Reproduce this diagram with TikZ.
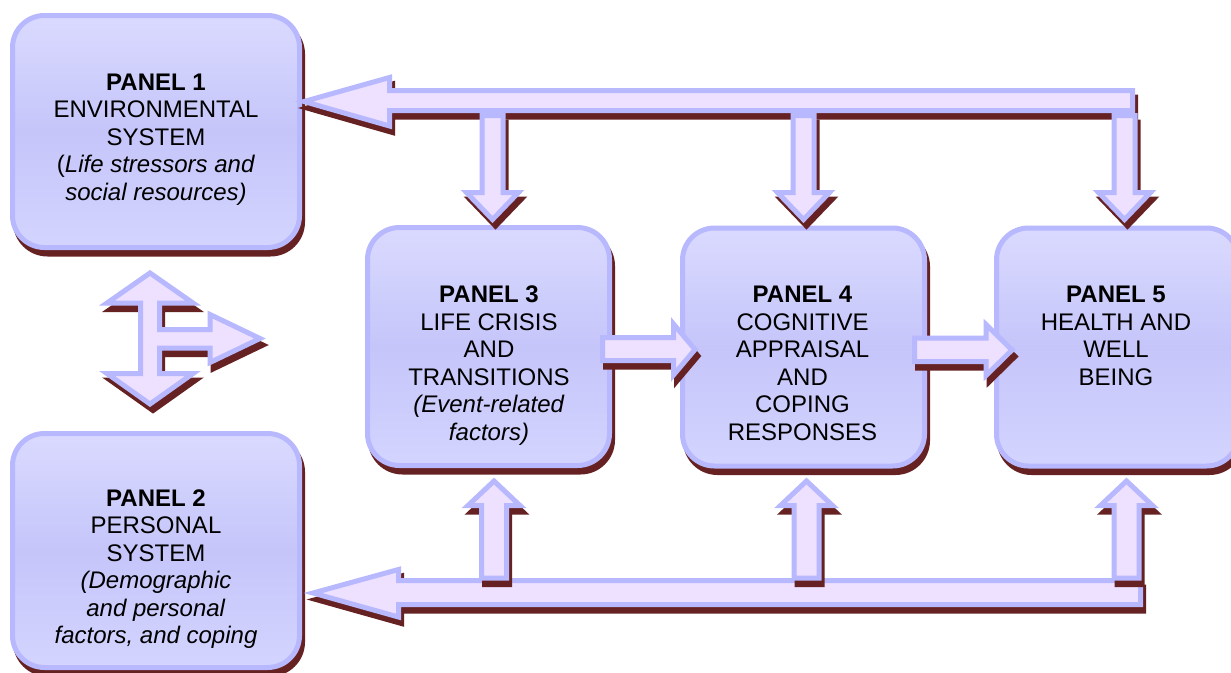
\documentclass[tikz,border=0pt]{standalone}
\usepackage{fontspec}
\setmainfont{Liberation Sans}
\definecolor{bordc}{RGB}{184,184,255}
\definecolor{arrfill}{RGB}{238,224,255}
\definecolor{shadc}{RGB}{102,34,34}
\definecolor{paneltop}{RGB}{218,218,255}
\definecolor{panelmid}{RGB}{197,197,250}
\definecolor{panelbot}{RGB}{212,212,255}
\begin{document}
\begin{tikzpicture}[x=1pt,y=-1pt,
  shad/.style={preaction={fill=shadc, draw=shadc, line width=5pt, line join=miter,
      transform canvas={shift={(3,6.5)}}}},
  blockarrow/.style={shad, fill=arrfill, draw=bordc, line width=5pt, line join=miter},
  panel/.style={shad, draw=bordc, line width=5pt, rounded corners=32pt, inner sep=0pt,
      top color=paneltop, bottom color=panelbot, middle color=panelmid,
      minimum width=#1},
  ptext/.style={align=center, inner sep=0pt, anchor=north,
      font=\fontsize{24pt}{27.5pt}\selectfont}
]
\useasboundingbox (0,0) rectangle (1231,672);
\clip (0,0) rectangle (1231,672);
\fill[white] (0,0) rectangle (1231,672);

% panels
\node[panel=287pt, minimum height=232pt] (p1) at (156,131.5) {};
\node[panel=287pt, minimum height=234pt] (p2) at (156,550.5) {};
\node[panel=242pt, minimum height=238pt] (p3) at (488.5,346.5) {};
\node[panel=242pt, minimum height=238pt] (p4) at (803.5,347) {};
\node[panel=242pt, minimum height=238pt] (p5) at (1117.5,347) {};

% top feedback arrow to panel 1
\path[blockarrow] (304,101.5) -- (389.5,77.5) -- (389.5,90.5) -- (1132.5,90.5)
  -- (1132.5,110.5) -- (389.5,110.5) -- (389.5,126) -- cycle;
\foreach \c in {492.5,803.5,1124.5}{
  \path[blockarrow] ({\c-10.5},115.5) -- ({\c+10.5},115.5) -- ({\c+10.5},192.5)
    -- ({\c+26},192.5) -- (\c,219.5) -- ({\c-26},192.5) -- ({\c-10.5},192.5) -- cycle;
}

% bottom feedback arrow to panel 2
\path[blockarrow] (313,593) -- (398.5,569.5) -- (398.5,580.5) -- (1140.5,580.5)
  -- (1140.5,604.5) -- (398.5,604.5) -- (398.5,617) -- cycle;
\foreach \c in {494,806.5,1126.5}{
  \path[blockarrow] (\c,481) -- ({\c+26},505.5) -- ({\c+12.5},505.5) -- ({\c+12.5},578)
    -- ({\c-12.5},578) -- ({\c-12.5},505.5) -- ({\c-26},505.5) -- cycle;
}

% forward arrows
\path[blockarrow] (602.5,337.5) -- (673.5,337.5) -- (673.5,324) -- (695,349.5)
  -- (673.5,375) -- (673.5,360.5) -- (602.5,360.5) -- cycle;
\path[blockarrow] (914.5,338) -- (986,338) -- (986,324.5) -- (1012,350)
  -- (986,375.5) -- (986,361.5) -- (914.5,361.5) -- cycle;

% left three-way arrow
\path[blockarrow] (150,273) -- (193,303) -- (159.5,303) -- (159.5,329.5) -- (210,329.5)
  -- (210,314.5) -- (260,338.5) -- (210,362.5) -- (210,348) -- (159.5,348)
  -- (159.5,373.5) -- (193,373.5) -- (150,404) -- (107,373.5) -- (140.5,373.5)
  -- (140.5,303) -- (107,303) -- cycle;

% texts
\node[ptext] (t1) at (156,73.3) {\textbf{PANEL 1}\\ENVIRONMENTAL\\SYSTEM\\(\textit{Life stressors and}\\\textit{social resources)}};
\node[ptext] (t2) at (156,489.5) {\textbf{PANEL 2}\\PERSONAL\\SYSTEM\\\textit{(Demographic}\\\textit{and personal}\\\textit{factors, and coping}};
\node[ptext] (t3) at (489,286) {\textbf{PANEL 3}\\LIFE CRISIS\\AND\\TRANSITIONS\\\textit{(Event-related}\\\textit{factors)}};
\node[ptext] (t4) at (802.5,286) {\textbf{PANEL 4}\\COGNITIVE\\APPRAISAL\\AND\\COPING\\RESPONSES};
\node[ptext] (t5) at (1116,286) {\textbf{PANEL 5}\\HEALTH AND\\WELL\\BEING};
\end{tikzpicture}
\end{document}
